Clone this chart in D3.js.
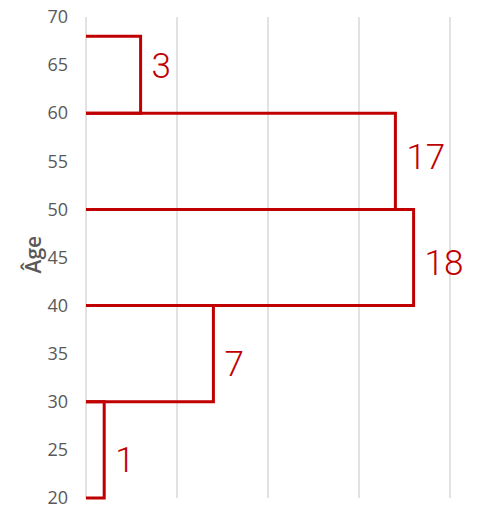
<!DOCTYPE html>
<html><head><meta charset="utf-8">
<script src="https://cdn.jsdelivr.net/npm/d3@7"></script>
<style>body{margin:0;background:#fff}</style>
</head><body>
<svg id="c" width="492" height="508"></svg>
<script>
const binStart = [20, 30, 40, 50, 60];
const binEnd = [30, 40, 50, 60, 68];
const counts = [1, 7, 18, 17, 3];
const labelAge = [24, 34, 44.5, 55.5, 65];
const yTicks = [20, 25, 30, 35, 40, 45, 50, 55, 60, 65, 70];
const xGrid = [0, 5, 10, 15, 20];

const svg = d3.select("#c");
const x = d3.scaleLinear().domain([0, 20]).range([86, 450]);
const y = d3.scaleLinear().domain([20, 70]).range([498, 17]);
const red = "#C00000";
const font = "'Open Sans', sans-serif";

svg.append("g").selectAll("line").data(xGrid).join("line")
  .attr("x1", d => x(d)).attr("x2", d => x(d))
  .attr("y1", y(70)).attr("y2", y(20))
  .attr("stroke", "#d9d9d9").attr("stroke-width", 1.5);

const axis = d3.axisLeft(y).tickValues(yTicks).tickSize(0).tickPadding(18);
const ag = svg.append("g").attr("transform", `translate(${x(0)},0)`).call(axis);
ag.select(".domain").remove();
ag.selectAll("text").attr("fill", "#595959").style("font-family", font).style("font-size", "18px");

svg.append("text").attr("transform", `translate(41,${y(45.3)}) rotate(-90)`)
  .attr("text-anchor", "middle").attr("fill", "#595959")
  .style("font-family", font).style("font-size", "21px").style("font-weight", 600)
  .text("Âge");

const data = counts.map((c, i) => ({c, s: binStart[i], e: binEnd[i], la: labelAge[i]}));
svg.append("g").selectAll("path").data(data).join("path")
  .attr("d", d => `M${x(0)},${y(d.e)}H${x(d.c)}V${y(d.s)}H${x(0)}`)
  .attr("fill", "none").attr("stroke", red).attr("stroke-width", 3);

svg.append("g").selectAll("text").data(data).join("text")
  .attr("x", d => x(d.c) + 11).attr("y", d => y(d.la))
  .attr("dy", "0.36em")
  .attr("fill", red).style("font-family", "Roboto, sans-serif").style("font-size", "35px").style("font-weight", 300)
  .text(d => d.c);
</script>
</body></html>
